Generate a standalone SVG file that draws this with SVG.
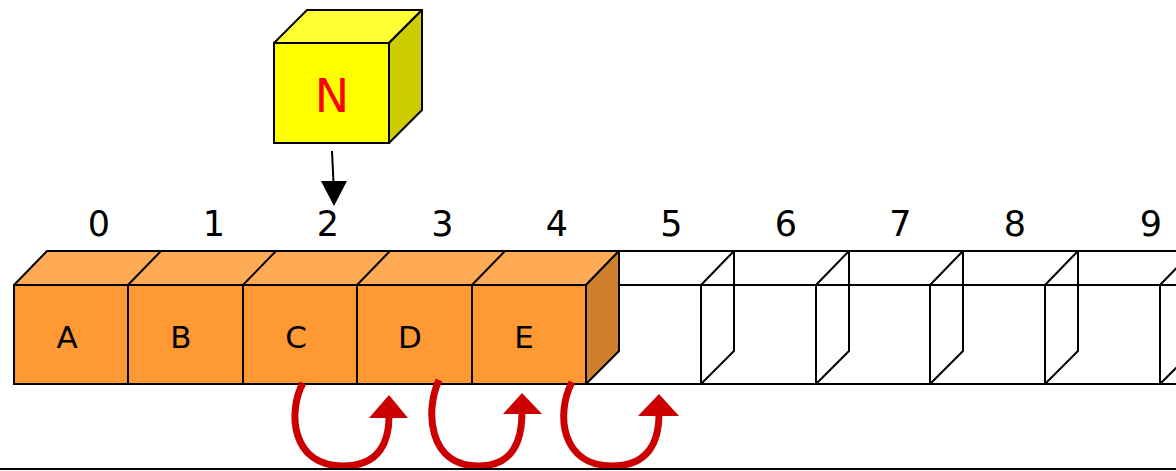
<svg xmlns="http://www.w3.org/2000/svg" width="1176" height="471" viewBox="0 0 1176 471">
<style>
.ln{fill:none;stroke:#000;stroke-width:2;stroke-linejoin:round}
.front{fill:#FF9933;stroke:#000;stroke-width:2}
.top{fill:#FFAA55;stroke:#000;stroke-width:2;stroke-linejoin:round}
.side{fill:#CD7F2E;stroke:#000;stroke-width:2;stroke-linejoin:round}
.idx{font-family:"DejaVu Sans",sans-serif;font-size:35px;fill:#000;text-anchor:middle}
.lbl{font-family:"DejaVu Sans",sans-serif;font-size:31px;fill:#000;text-anchor:middle}
.red{fill:none;stroke:#CC0000;stroke-width:7;stroke-linecap:butt}
.redhead{fill:#CC0000}
</style>

<g id="indices">
<text class="idx" x="99" y="236">0</text>
<text class="idx" x="214" y="236">1</text>
<text class="idx" x="328" y="236">2</text>
<text class="idx" x="442.5" y="236">3</text>
<text class="idx" x="557" y="236">4</text>
<text class="idx" x="671.5" y="236">5</text>
<text class="idx" x="786" y="236">6</text>
<text class="idx" x="900.5" y="236">7</text>
<text class="idx" x="1015" y="236">8</text>
<text class="idx" x="1151" y="236">9</text>
</g>

<g id="empty-cells">
<line class="ln" x1="619" y1="251" x2="1176" y2="251"/>
<line class="ln" x1="586" y1="285" x2="1176" y2="285"/>
<line class="ln" x1="586" y1="384" x2="1176" y2="384"/>
<path class="ln" d="M701,384 V285 L734,251 V351 Z"/>
<path class="ln" d="M816,384 V285 L849,251 V351 Z"/>
<path class="ln" d="M930,384 V285 L963,251 V351 Z"/>
<path class="ln" d="M1045,384 V285 L1078,251 V351 Z"/>
<path class="ln" d="M1160,384 V285 L1193,251 V351 Z"/>
</g>

<g id="array-top">
<polygon class="top" points="14,285 47,251 619,251 586,285"/>
<line class="ln" x1="128" y1="285" x2="161" y2="251"/>
<line class="ln" x1="243" y1="285" x2="276" y2="251"/>
<line class="ln" x1="357" y1="285" x2="390" y2="251"/>
<line class="ln" x1="472" y1="285" x2="505" y2="251"/>
<polygon class="side" points="586,285 619,251 619,351 586,384"/>
</g>

<g id="cell-A"><rect class="front" x="14" y="285" width="114" height="99"/><text class="lbl" x="67" y="348">A</text></g>
<g id="cell-B"><rect class="front" x="128" y="285" width="115" height="99"/><text class="lbl" x="181" y="348">B</text></g>
<g id="cell-C"><rect class="front" x="243" y="285" width="114" height="99"/><text class="lbl" x="296" y="348">C</text></g>
<g id="cell-D"><rect class="front" x="357" y="285" width="115" height="99"/><text class="lbl" x="410" y="348">D</text></g>
<g id="cell-E"><rect class="front" x="472" y="285" width="114" height="99"/><text class="lbl" x="524" y="348">E</text></g>

<g id="node-N">
<polygon points="274,43 307,10 422,10 389,43" fill="#FFFF33" stroke="#000" stroke-width="2" stroke-linejoin="round"/>
<polygon points="389,43 422,10 422,110 389,143" fill="#CCCC00" stroke="#000" stroke-width="2" stroke-linejoin="round"/>
<rect x="274" y="43" width="115" height="100" fill="#FFFF00" stroke="#000" stroke-width="2"/>
<text x="332" y="112" font-family="DejaVu Sans, sans-serif" font-size="46" fill="#FF0000" text-anchor="middle">N</text>
</g>

<g id="connectors">
<line x1="332" y1="151" x2="333.5" y2="183" stroke="#000" stroke-width="2"/>
<polygon points="321,181 347,181 334,206" fill="#000"/>
<path class="red" d="M303,383 C288,410 290,466 343,466 C381,466 389,440 389,416"/>
<polygon class="redhead" points="369,418 408,418 389,395"/>
<path class="red" d="M439,380 C425,410 428,466 478,466 C514,466 522,440 522,412"/>
<polygon class="redhead" points="503,414 542,414 522,393"/>
<path class="red" d="M572,382 C555,415 562,466 612,466 C650,466 659,440 659,414"/>
<polygon class="redhead" points="638,416 679,416 659,394"/>
</g>

<line id="baseline" x1="0" y1="469" x2="1176" y2="469" stroke="#000" stroke-width="2"/>
</svg>
